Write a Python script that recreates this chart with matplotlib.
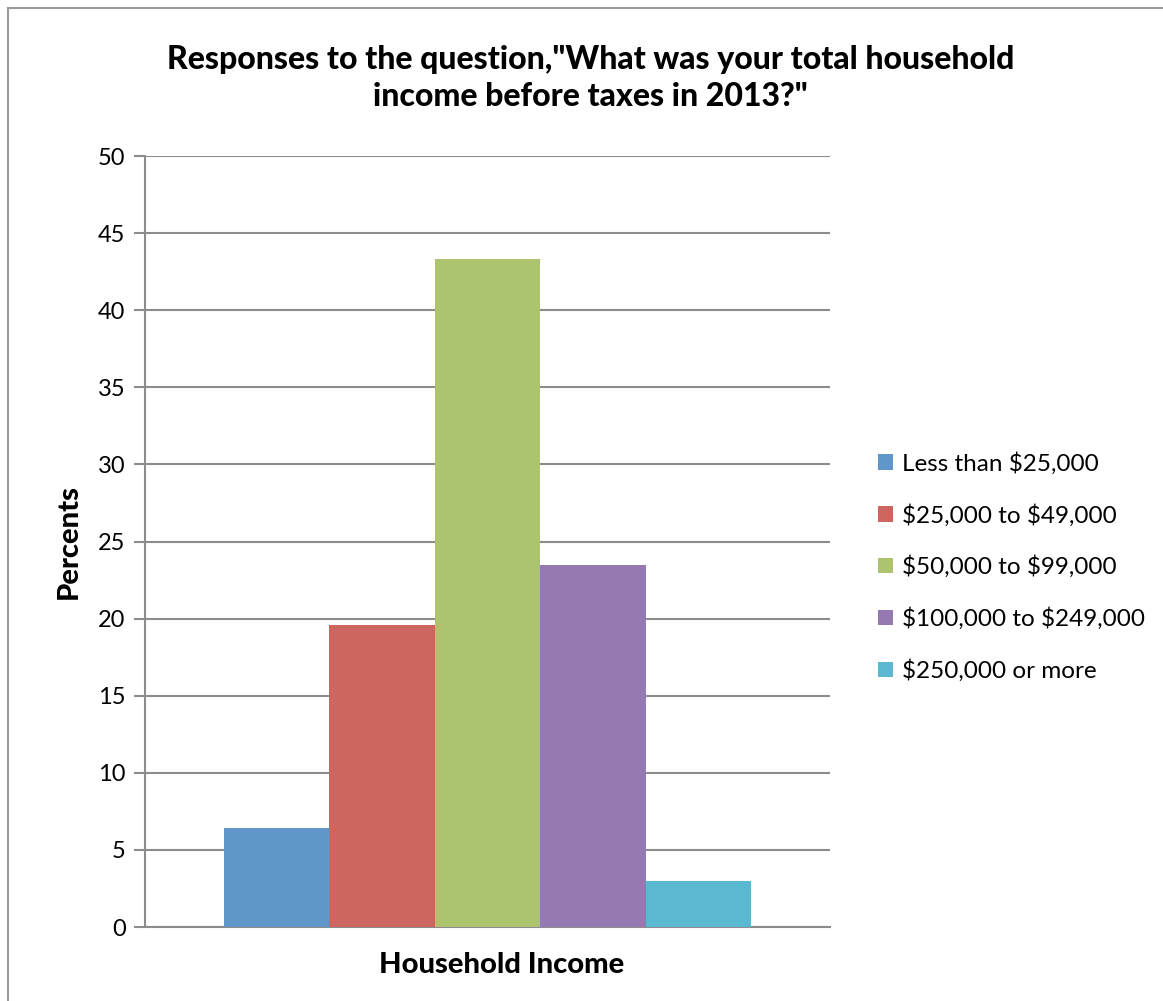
import matplotlib.pyplot as plt
import matplotlib.patches as mpatches
import numpy as np

# data
categories = ["Less than \\$25,000", "\\$25,000 to \\$49,000", "\\$50,000 to \\$99,000",
              "\\$100,000 to \\$249,000", "\\$250,000 or more"]
percents = [6.4, 19.6, 43.3, 23.5, 3.0]
colors = ["#6096C9", "#CD665F", "#ABC46D", "#947AB1", "#5CB8D1"]
y_ticks = [0, 5, 10, 15, 20, 25, 30, 35, 40, 45, 50]

plt.rcParams['font.family'] = ['Lato', 'DejaVu Sans']

fig = plt.figure(figsize=(11.63, 10.01), dpi=100)
ax = fig.add_axes([0.1247, 0.0739, 0.589, 0.7702])

# outer chart frame
fig.patches.append(mpatches.Rectangle((0.007, -0.01), 1.0, 1.002, transform=fig.transFigure,
                                      fill=False, edgecolor="#999999", linewidth=1.5))

grid_color = "#8c8c8c"
x = np.arange(len(categories))
for i in range(len(categories)):
    ax.bar(x[i], percents[i], width=1.0, color=colors[i], label=categories[i], zorder=3)

ax.set_xlim(-1.25, 5.25)
ax.set_ylim(0, 50)
ax.set_yticks(y_ticks)
ax.set_xticks([])
ax.yaxis.grid(True, color=grid_color, linewidth=1.5, zorder=0)
ax.tick_params(axis='y', length=8, width=1.5, color=grid_color, labelsize=17, pad=6)
for side in ["top", "right"]:
    ax.spines[side].set_visible(False)
ax.spines["left"].set_color(grid_color)
ax.spines["left"].set_linewidth(1.5)
ax.spines["bottom"].set_color(grid_color)
ax.spines["bottom"].set_linewidth(1.5)

ax.set_ylabel("Percents", fontsize=21, fontweight="black", labelpad=12)
ax.set_xlabel("Household Income", fontsize=21, fontweight="black", labelpad=22)
ax.xaxis.set_label_coords(0.52, -0.033)
ax.xaxis.label.set_va("top")

fig.text(0.508, 0.922, 'Responses to the question,"What was your total household\nincome before taxes in 2013?"',
         ha="center", va="center", fontsize=23, fontweight="black", linespacing=1.3)

ax.legend(loc="center left", bbox_to_anchor=(0.755, 0.4336), bbox_transform=fig.transFigure,
          frameon=False, fontsize=17.5, borderaxespad=0, borderpad=0,
          handlelength=0.6, handleheight=0.6, handletextpad=0.4, labelspacing=1.2)

plt.savefig("out.png", dpi=100)
